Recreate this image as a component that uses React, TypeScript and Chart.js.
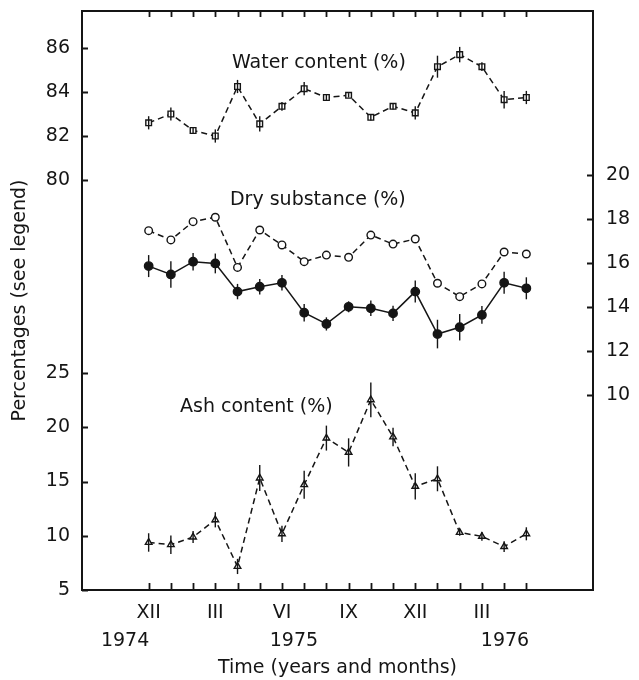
import React, { useEffect, useRef } from 'react';
import { Chart, registerables } from 'chart.js';

Chart.register(...registerables);

// ---------- data ----------
const months = ['XII', 'I', 'II', 'III', 'IV', 'V', 'VI', 'VII', 'VIII', 'IX', 'X', 'XI', 'XII', 'I', 'II', 'III', 'IV', 'V'];
const monthTickLabels = ['XII', '', '', 'III', '', '', 'VI', '', '', 'IX', '', '', 'XII', '', '', 'III', '', ''];
const yearLabels = ['1974', '1975', '1976'];
const yearPositions = [-1.06, 6.54, 16.04];

const waterContent = [82.6, 83.0, 82.25, 82.0, 84.25, 82.55, 83.35, 84.15, 83.75, 83.85, 82.85, 83.35, 83.05, 85.15, 85.7, 85.15, 83.65, 83.75];
const waterErr = [0.3, 0.3, 0.15, 0.3, 0.3, 0.35, 0.2, 0.3, 0.15, 0.1, 0.15, 0.15, 0.3, 0.5, 0.35, 0.2, 0.4, 0.3];

const dryOpen = [17.47, 17.05, 17.88, 18.08, 15.8, 17.5, 16.82, 16.06, 16.36, 16.26, 17.27, 16.86, 17.09, 15.08, 14.47, 15.05, 16.5, 16.41];
const drySolid = [15.86, 15.48, 16.06, 15.98, 14.7, 14.92, 15.1, 13.74, 13.23, 14.01, 13.94, 13.71, 14.7, 12.77, 13.08, 13.64, 15.1, 14.85];
const drySolidErr = [0.5, 0.6, 0.4, 0.45, 0.35, 0.35, 0.35, 0.4, 0.3, 0.25, 0.35, 0.35, 0.5, 0.65, 0.6, 0.4, 0.5, 0.5];

const ashContent = [9.38, 9.17, 9.88, 11.47, 7.17, 15.32, 10.18, 14.7, 19.0, 17.68, 22.53, 19.1, 14.55, 15.25, 10.3, 9.94, 9.0, 10.18];
const ashErr = [0.85, 0.85, 0.55, 0.7, 0.7, 1.2, 0.75, 1.3, 1.15, 1.3, 1.6, 0.85, 1.2, 1.15, 0.3, 0.4, 0.5, 0.6];

const waterTicks = [80, 82, 84, 86];
const dryTicks = [10, 12, 14, 16, 18, 20];
const ashTicks = [5, 10, 15, 20, 25];

const annotationTexts = ['Water content (%)', 'Dry substance (%)', 'Ash content (%)'];
const annotationX = [3.75, 3.66, 1.41];
const annotationY = [85.09, 18.64, 21.41];
const annotationAxis = ['yWater', 'yDry', 'yAsh'];

// ---------- styling ----------
const ink = '#151515';
const FONT = 'DejaVu Sans';
const FS = 19;

Chart.defaults.font.family = FONT;
Chart.defaults.font.size = FS;
Chart.defaults.color = ink;

const monthIndex = months.map((_, i) => i);
const toPoints = (arr: number[]) => arr.map((v, i) => ({ x: monthIndex[i], y: v }));

const fitY = (w: number) => (s: any) => {
  s.width = w;
  s.paddingTop = 0;
  s.paddingBottom = 0;
  s.paddingLeft = 0;
  s.paddingRight = 0;
};
const fitX = (h: number) => (s: any) => {
  s.height = h;
  s.paddingTop = 0;
  s.paddingBottom = 0;
  s.paddingLeft = 0;
  s.paddingRight = 0;
};
const setTicks = (vals: number[]) => (s: any) => {
  s.ticks = vals.map((v) => ({ value: v }));
};

const decorPlugin = {
  id: 'decor',
  afterDatasetsDraw(chart: any) {
    const ctx = chart.ctx;
    ctx.save();
    ctx.strokeStyle = ink;
    ctx.lineWidth = 1.4;
    ctx.setLineDash([]);
    chart.data.datasets.forEach((ds: any, i: number) => {
      const errs = ds.errorBars;
      if (!errs) return;
      const meta = chart.getDatasetMeta(i);
      const ys = chart.scales[ds.yAxisID];
      meta.data.forEach((pt: any, j: number) => {
        const e = errs[j];
        if (!e) return;
        const v = ds.data[j].y;
        ctx.beginPath();
        ctx.moveTo(pt.x, ys.getPixelForValue(v + e));
        ctx.lineTo(pt.x, ys.getPixelForValue(v - e));
        ctx.stroke();
      });
    });
    ctx.restore();
  },
  afterDraw(chart: any) {
    const ctx = chart.ctx;
    const a = chart.chartArea;
    ctx.save();
    ctx.setLineDash([]);
    ctx.strokeStyle = ink;
    ctx.lineWidth = 2;
    ctx.strokeRect(a.left, a.top, a.right - a.left, a.bottom - a.top);
    ctx.lineWidth = 1.8;
    ctx.lineCap = 'butt';
    const xs = chart.scales.x;
    ctx.beginPath();
    monthIndex.forEach((v) => {
      const px = Math.round(xs.getPixelForValue(v)) + 0.5;
      ctx.moveTo(px, a.bottom);
      ctx.lineTo(px, a.bottom - 7);
      ctx.moveTo(px, a.top);
      ctx.lineTo(px, a.top + 6);
    });
    const sw = chart.scales.yWater;
    waterTicks.forEach((v) => {
      const py = Math.round(sw.getPixelForValue(v)) + 0.5;
      ctx.moveTo(a.left, py);
      ctx.lineTo(a.left + 6, py);
    });
    const sa = chart.scales.yAsh;
    ashTicks.forEach((v) => {
      const py = Math.round(sa.getPixelForValue(v)) + 0.5;
      ctx.moveTo(a.left, py);
      ctx.lineTo(a.left + 6, py);
    });
    const sd = chart.scales.yDry;
    dryTicks.forEach((v) => {
      const py = Math.round(sd.getPixelForValue(v)) + 0.5;
      ctx.moveTo(a.right, py);
      ctx.lineTo(a.right - 6, py);
    });
    ctx.stroke();

    ctx.fillStyle = ink;
    ctx.font = `${FS}px "${FONT}"`;
    ctx.textAlign = 'left';
    ctx.textBaseline = 'alphabetic';
    annotationTexts.forEach((txt, i) => {
      const s = chart.scales[annotationAxis[i]];
      ctx.fillText(txt, xs.getPixelForValue(annotationX[i]), s.getPixelForValue(annotationY[i]));
    });
    ctx.restore();
  },
};

const noGrid = { display: false, drawTicks: false };

export default function App() {
  const ref = useRef<HTMLCanvasElement>(null);

  useEffect(() => {
    if (!ref.current) return;
    const lineBase = {
      borderColor: ink,
      borderWidth: 1.5,
      pointBorderColor: ink,
      pointBorderWidth: 1.4,
      pointHoverRadius: 0,
      tension: 0,
      xAxisID: 'x',
    };
    const chart = new Chart(ref.current, {
      type: 'line',
      data: {
        labels: months,
        datasets: [
          {
            ...lineBase,
            label: 'Water content',
            data: toPoints(waterContent),
            yAxisID: 'yWater',
            borderDash: [6, 4],
            pointStyle: 'rect',
            pointRadius: 4,
            pointBackgroundColor: '#fff',
            errorBars: waterErr,
          } as any,
          {
            ...lineBase,
            label: 'Dry substance (open)',
            data: toPoints(dryOpen),
            yAxisID: 'yDry',
            borderDash: [6, 4],
            pointStyle: 'circle',
            pointRadius: 3.8,
            pointBackgroundColor: '#fff',
          } as any,
          {
            ...lineBase,
            label: 'Dry substance',
            data: toPoints(drySolid),
            yAxisID: 'yDry',
            pointStyle: 'circle',
            pointRadius: 4.2,
            pointBackgroundColor: ink,
            errorBars: drySolidErr,
          } as any,
          {
            ...lineBase,
            label: 'Ash content',
            data: toPoints(ashContent),
            yAxisID: 'yAsh',
            borderDash: [6, 4],
            pointStyle: 'triangle',
            pointRadius: 3.8,
            pointBackgroundColor: '#fff',
            errorBars: ashErr,
          } as any,
        ],
      },
      options: {
        responsive: false,
        animation: false,
        events: [],
        layout: { padding: { top: 11, left: 0, right: 0, bottom: 0 } },
        plugins: { legend: { display: false }, tooltip: { enabled: false } },
        scales: {
          x: {
            type: 'linear',
            position: 'bottom',
            min: -3,
            max: 20,
            weight: 0,
            grid: noGrid,
            border: { display: false },
            ticks: {
              autoSkip: false,
              maxRotation: 0,
              padding: 12,
              callback: (v: any) => monthTickLabels[Math.round(Number(v))] ?? '',
            },
            afterBuildTicks: setTicks(monthIndex),
            afterFit: fitX(37),
          },
          xYears: {
            type: 'linear',
            position: 'bottom',
            min: -3,
            max: 20,
            weight: 1,
            grid: noGrid,
            border: { display: false },
            ticks: {
              autoSkip: false,
              maxRotation: 0,
              padding: 3,
              callback: (_v: any, i: number) => yearLabels[i],
            },
            title: {
              display: true,
              text: 'Time (years and months)',
              padding: { top: 0, bottom: 1 },
            },
            afterBuildTicks: setTicks(yearPositions),
            afterFit: fitX(53),
          },
          yTitle: {
            type: 'linear',
            position: 'left',
            weight: 10,
            grid: noGrid,
            border: { display: false },
            ticks: { display: false },
            title: {
              display: true,
              text: 'Percentages (see legend)',
              padding: { top: 9, bottom: 0 },
            },
            afterFit: fitY(36),
          },
          yWater: {
            type: 'linear',
            position: 'left',
            stack: 'left',
            stackWeight: 279,
            weight: 2,
            min: 75,
            max: 75 + 279 / 22,
            grid: noGrid,
            border: { display: false },
            ticks: { padding: 12 },
            afterBuildTicks: setTicks(waterTicks),
            afterFit: fitY(46),
          },
          yAsh: {
            type: 'linear',
            position: 'left',
            stack: 'left',
            stackWeight: 300,
            weight: 1,
            min: 5,
            max: 5 + 300 / 10.85,
            grid: noGrid,
            border: { display: false },
            ticks: { padding: 12 },
            afterBuildTicks: setTicks(ashTicks),
            afterFit: fitY(46),
          },
          yDry: {
            type: 'linear',
            position: 'right',
            min: 20 - 415 / 22,
            max: 20 + 164 / 22,
            grid: noGrid,
            border: { display: false },
            ticks: { padding: 13 },
            afterBuildTicks: setTicks(dryTicks),
            afterFit: fitY(46),
          },
        },
      } as any,
      plugins: [decorPlugin],
    });
    return () => chart.destroy();
  }, []);

  return (
    <div style={{ position: 'absolute', left: 0, top: 0, width: 639, height: 680 }}>
      <canvas ref={ref} width={639} height={680} style={{ display: 'block', width: 639, height: 680 }} />
    </div>
  );
}
